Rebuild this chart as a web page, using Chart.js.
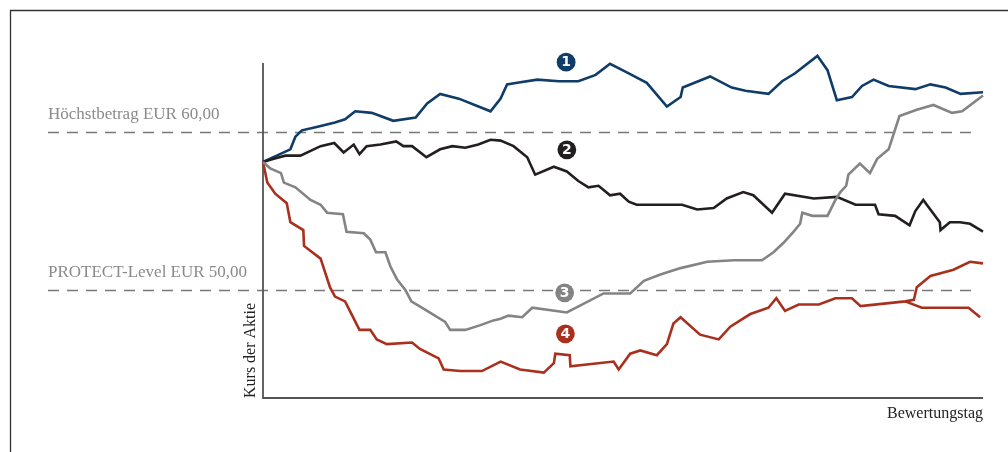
<!DOCTYPE html>
<html>
<head>
<meta charset="utf-8">
<script src="https://cdn.jsdelivr.net/npm/chart.js@4"></script>
<style>
  html, body { margin: 0; padding: 0; background: #fff; }
  canvas { display: block; }
</style>
</head>
<body>
<canvas id="kursChart" width="1008" height="452"></canvas>
<script>
// Kursverlauf der Aktie - 4 Szenarien
const blueDays = [0, 1.9, 3.8, 4.5, 5.4, 7.3, 10.0, 11.4, 12.8, 15.1, 18.1, 21.2, 22.8, 24.6, 27.2, 31.6, 33.0, 33.9, 35.3, 38.1, 41.1, 43.8, 46.2, 48.2, 50.8, 53.3, 56.1, 58.0, 58.3, 62.1, 65.1, 67.0, 70.2, 72.1, 73.9, 77.0, 78.4, 79.7, 81.8, 83.2, 84.8, 86.9, 90.6, 92.7, 94.8, 96.9, 100];
const bluePrices = [58.1, 58.5, 58.9, 59.7, 60.1, 60.3, 60.6, 60.8, 61.3, 61.2, 60.7, 60.9, 61.8, 62.4, 62.1, 61.3, 62.1, 63.0, 63.1, 63.3, 63.2, 63.2, 63.6, 64.3, 63.7, 63.1, 61.6, 62.2, 62.8, 63.5, 62.8, 62.6, 62.4, 63.2, 63.7, 64.8, 63.9, 62.0, 62.2, 62.9, 63.3, 62.9, 62.7, 63.0, 62.8, 62.4, 62.5];

const blackDays = [0, 1.5, 3.1, 5.2, 8.0, 9.9, 11.2, 12.6, 13.4, 14.4, 16.3, 18.5, 19.5, 20.7, 22.7, 24.6, 26.3, 28.1, 29.9, 31.6, 33.0, 34.8, 36.7, 37.8, 40.4, 42.2, 43.8, 45.2, 46.6, 48.2, 49.6, 50.8, 51.9, 58.2, 60.3, 62.6, 64.4, 66.7, 68.1, 70.7, 72.5, 76.5, 79.7, 82.3, 85.0, 85.5, 87.8, 89.8, 90.6, 91.7, 94.0, 94.1, 95.4, 96.8, 98.2, 100];
const blackPrices = [58.1, 58.3, 58.5, 58.5, 59.1, 59.3, 58.7, 59.2, 58.6, 59.1, 59.2, 59.4, 59.1, 59.1, 58.4, 58.9, 59.1, 59.0, 59.2, 59.5, 59.45, 59.1, 58.4, 57.3, 57.8, 57.5, 56.9, 56.5, 56.6, 56.0, 56.1, 55.6, 55.4, 55.4, 55.1, 55.2, 55.8, 56.2, 56.0, 54.9, 56.1, 55.8, 55.9, 55.4, 55.4, 54.8, 54.7, 54.1, 55.0, 55.7, 54.3, 53.8, 54.3, 54.3, 54.2, 53.7];

const grayDays = [0, 1.0, 2.5, 2.9, 4.5, 6.6, 8.0, 8.9, 11.1, 11.6, 14.0, 14.9, 15.7, 17.0, 17.7, 18.6, 19.8, 20.6, 22.8, 25.3, 26.0, 28.1, 30.2, 32.0, 33.0, 34.1, 36.0, 37.4, 42.2, 47.3, 51.0, 52.9, 55.2, 58.0, 61.7, 65.4, 69.3, 70.9, 72.3, 73.7, 74.6, 74.9, 76.3, 78.4, 79.5, 80.2, 81.0, 81.3, 82.9, 84.3, 85.3, 86.9, 88.4, 90.8, 93.1, 95.7, 97.1, 100];
const grayPrices = [58.1, 57.7, 57.4, 56.8, 56.5, 55.7, 55.4, 54.9, 54.8, 53.7, 53.6, 53.2, 52.4, 52.4, 51.5, 50.7, 50.0, 49.3, 48.7, 48.0, 47.5, 47.5, 47.8, 48.1, 48.2, 48.4, 48.3, 48.9, 48.6, 49.8, 49.8, 50.6, 51.0, 51.4, 51.8, 51.9, 51.9, 52.4, 53.0, 53.7, 54.2, 54.9, 54.7, 54.7, 55.7, 56.2, 56.6, 57.3, 58.0, 57.4, 58.3, 58.9, 61.0, 61.4, 61.7, 61.2, 61.3, 62.3];

const redDays = [0, 0.6, 1.7, 3.3, 3.8, 5.6, 5.7, 8.0, 9.3, 10.0, 11.4, 12.4, 13.4, 14.9, 15.8, 17.2, 20.7, 21.8, 24.4, 25.1, 27.4, 30.4, 33.0, 35.7, 39.0, 40.4, 40.6, 42.6, 42.7, 48.7, 49.4, 51.0, 52.4, 54.7, 56.1, 57.0, 58.0, 60.7, 63.3, 64.9, 67.0, 67.7, 70.2, 71.3, 72.5, 74.4, 77.2, 79.5, 81.8, 83.0, 89.2, 90.4, 90.8, 92.7, 95.9, 98.2, 100];
const redPrices = [58.1, 56.8, 56.1, 55.5, 54.3, 53.8, 52.8, 52.0, 50.2, 49.6, 49.3, 48.4, 47.5, 47.5, 46.9, 46.6, 46.7, 46.3, 45.7, 45.0, 44.9, 44.9, 45.5, 45.0, 44.8, 45.4, 46.0, 45.9, 45.2, 45.5, 45.0, 46.0, 46.2, 45.9, 46.6, 47.9, 48.3, 47.2, 46.9, 47.7, 48.3, 48.5, 48.9, 49.5, 48.7, 49.1, 49.1, 49.5, 49.5, 49.0, 49.3, 49.4, 50.2, 50.9, 51.3, 51.8, 51.7];

// zweiter Ast der roten Kurve (ab Tag ~89)
const redBranchDays = [89.2, 91.5, 98.0, 99.6];
const redBranchPrices = [49.3, 48.9, 48.9, 48.3];

const levelValues = [60, 50];
const levelLabels = ['Höchstbetrag EUR 60,00', 'PROTECT-Level EUR 50,00'];

const markerNumbers = ['1', '2', '3', '4'];
const markerDays = [42.1, 42.2, 41.9, 42.0];
const markerPrices = [64.4, 58.87, 49.84, 47.25];

const yAxisTitle = 'Kurs der Aktie';
const xAxisTitle = 'Bewertungstag';

const colors = {
    blue: '#103c68',
    black: '#231f20',
    gray: '#848484',
    red: '#a9301d'
};
const markerColors = [colors.blue, colors.black, colors.gray, colors.red];

function toPoints(days, prices) {
    return days.map((d, i) => ({ x: d, y: prices[i] }));
}

function makeDataset(days, prices, color) {
    return {
        data: toPoints(days, prices),
        borderColor: color,
        borderWidth: 2.6,
        pointRadius: 0,
        tension: 0,
        fill: false,
        clip: false
    };
}

const serif = '"Liberation Serif", "DejaVu Serif", serif';

const decorPlugin = {
    id: 'decor',
    beforeDatasetsDraw(chart) {
        const ctx = chart.ctx;
        const area = chart.chartArea;
        const yScale = chart.scales.y;
        ctx.save();

        // Rahmen oben und links
        ctx.strokeStyle = '#333';
        ctx.lineWidth = 1.3;
        ctx.beginPath();
        ctx.moveTo(10.5, chart.height);
        ctx.lineTo(10.5, 10.5);
        ctx.lineTo(chart.width, 10.5);
        ctx.stroke();

        // gestrichelte Linien + Beschriftung
        levelValues.forEach((v, i) => {
            const y = Math.round(yScale.getPixelForValue(v)) + 0.5;
            ctx.strokeStyle = '#777';
            ctx.lineWidth = 1.3;
            ctx.setLineDash([11, 8]);
            ctx.beginPath();
            ctx.moveTo(48, y);
            ctx.lineTo(area.right - 6, y);
            ctx.stroke();
            ctx.setLineDash([]);

            ctx.fillStyle = '#8a8a8a';
            ctx.font = '17px ' + serif;
            ctx.textAlign = 'left';
            ctx.textBaseline = 'alphabetic';
            ctx.fillText(levelLabels[i], 48, y - 14);
        });

        // Achsen
        ctx.strokeStyle = '#555';
        ctx.lineWidth = 1.8;
        ctx.beginPath();
        ctx.moveTo(area.left, area.top);
        ctx.lineTo(area.left, area.bottom);
        ctx.lineTo(area.right, area.bottom);
        ctx.stroke();

        // Achsentitel
        ctx.fillStyle = '#222';
        ctx.font = '16px ' + serif;
        ctx.textAlign = 'right';
        ctx.textBaseline = 'alphabetic';
        ctx.fillText(xAxisTitle, area.right, area.bottom + 20);

        ctx.translate(area.left - 8, area.bottom);
        ctx.rotate(-Math.PI / 2);
        ctx.textAlign = 'left';
        ctx.fillText(yAxisTitle, 0, 0);
        ctx.restore();
    },
    afterDatasetsDraw(chart) {
        const ctx = chart.ctx;
        const xScale = chart.scales.x;
        const yScale = chart.scales.y;
        ctx.save();
        markerNumbers.forEach((num, i) => {
            const x = xScale.getPixelForValue(markerDays[i]);
            const y = yScale.getPixelForValue(markerPrices[i]);
            ctx.beginPath();
            ctx.arc(x, y, 10.5, 0, Math.PI * 2);
            ctx.fillStyle = '#fff';
            ctx.fill();
            ctx.beginPath();
            ctx.arc(x, y, 9.4, 0, Math.PI * 2);
            ctx.fillStyle = markerColors[i];
            ctx.fill();
            ctx.fillStyle = '#fff';
            ctx.font = 'bold 14px "DejaVu Sans", sans-serif';
            ctx.textAlign = 'center';
            ctx.textBaseline = 'middle';
            ctx.fillText(num, x, y + 0.5);
        });
        ctx.restore();
    }
};

new Chart(document.getElementById('kursChart'), {
    type: 'line',
    data: {
        datasets: [
            makeDataset(grayDays, grayPrices, colors.gray),
            makeDataset(redDays, redPrices, colors.red),
            makeDataset(redBranchDays, redBranchPrices, colors.red),
            makeDataset(blackDays, blackPrices, colors.black),
            makeDataset(blueDays, bluePrices, colors.blue)
        ]
    },
    options: {
        responsive: false,
        animation: false,
        layout: {
            padding: { left: 263, right: 25, top: 63, bottom: 54 }
        },
        plugins: {
            legend: { display: false },
            tooltip: { enabled: false }
        },
        scales: {
            x: { type: 'linear', min: 0, max: 100, display: false },
            y: { min: 43.2, max: 64.35, display: false }
        }
    },
    plugins: [decorPlugin]
});
</script>
</body>
</html>
